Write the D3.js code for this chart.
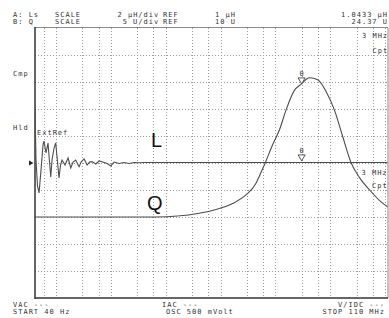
<!DOCTYPE html>
<html>
<head>
<meta charset="utf-8">
<script src="https://cdn.jsdelivr.net/npm/d3@7"></script>
<style>
	body { margin: 0; background: #fff; }
	svg { display: block; }
	.mono { font-family: "DejaVu Sans Mono", monospace; font-size: 7px; letter-spacing: 1px; fill: #333; }
	.big { font-family: "Liberation Sans", Arial, sans-serif; font-size: 20px; fill: #111; }
</style>
</head>
<body>
<svg id="chart" width="389" height="318"></svg>
<script>
// sweep settings
var startFreq = 40, stopFreq = 110e6;
var freqGrid = [60, 100, 300, 600, 1e3, 3e3, 6e3, 1e4, 3e4, 6e4, 1e5, 3e5, 6e5, 1e6, 3e6, 6e6, 1e7, 3e7, 6e7, 1e8];

// trace A: Ls (uH), 2 uH/div, ref 1 uH
var lFreq = [40, 41.7, 43.5, 46.3, 49.4, 53.7, 58.4, 60.9, 66.2, 72, 80.7, 85.2, 92.7, 99.5, 106.4, 114.3, 121.7, 129.7, 147, 167, 187, 206, 230, 265, 288, 327, 371, 411, 457, 534, 613, 757, 859, 1000, 1150, 1420, 1750, 2160, 2670, 3290, 4060, 110e6];
var lVal = [6.04, 5.07, 1.22, -0.7, -1.22, 0.48, 2.33, 2.63, 1.74, 2.48, -0.04, 1.22, 2.11, 2.48, 1.22, -0.11, 0.85, 1.22, 0.85, 1.37, 0.63, 1.07, 1.22, 0.73, 1.07, 1.3, 0.85, 1.07, 1.1, 0.93, 1.15, 1.04, 0.96, 0.78, 1.07, 0.96, 1.04, 0.96, 1.04, 1.02, 1.04, 1.04];

// trace B: Q, 5 U/div, ref 10 U
var qFreq = [40, 6.6e3, 41e3, 83e3, 166e3, 290e3, 440e3, 510e3, 650e3, 880e3, 1.18e6, 1.56e6, 2.2e6, 2.95e6, 4.15e6, 5.9e6, 8.4e6, 11.9e6, 16.8e6, 24e6, 34e6, 52e6, 84e6, 110e6];
var qVal = [0, 0, 0.7, 1.4, 2.5, 4.1, 6.2, 7.6, 10, 13.3, 16.1, 19.8, 23.4, 24.6, 25.8, 25.4, 23.2, 19.8, 14.9, 10, 7.3, 5.0, 2.8, 1.9];

var scaleA = 2, refA = 1, scaleB = 5, refB = 10, divisions = 10;
var markerFreq = 3e6, markerL = 1.0433, markerQ = 24.37;

var svg = d3.select("#chart");
// note: "top" is reserved on window, keep the plot box in an object
var box = {left: 35, right: 388, top: 28, bottom: 298};

var x = d3.scaleLog().domain([startFreq, stopFreq]).range([34, 387.5]);
// reference sits on the centre division
var yA = d3.scaleLinear().domain([refA - scaleA * divisions / 2, refA + scaleA * divisions / 2]).range([box.bottom, box.top]);
var yB = d3.scaleLinear().domain([refB - scaleB * divisions / 2, refB + scaleB * divisions / 2]).range([box.bottom, box.top]);

svg.append("clipPath").attr("id", "plot")
	.append("rect").attr("x", box.left).attr("y", box.top).attr("width", box.right - box.left).attr("height", box.bottom - box.top);

// grid
var grid = svg.append("g").attr("stroke", "#9a9a9a").attr("stroke-dasharray", "1,2");
grid.selectAll(".vx").data(freqGrid).enter().append("line")
	.attr("x1", function(d) { return Math.round(x(d)) + 0.5; })
	.attr("x2", function(d) { return Math.round(x(d)) + 0.5; })
	.attr("y1", box.top).attr("y2", box.bottom);
grid.selectAll(".hy").data(d3.range(1, divisions)).enter().append("line")
	.attr("x1", box.left).attr("x2", box.right)
	.attr("y1", function(d) { return Math.round(yA(yA.domain()[0] + d * scaleA)) + 0.5; })
	.attr("y2", function(d) { return Math.round(yA(yA.domain()[0] + d * scaleA)) + 0.5; });

// frame
svg.append("line").attr("x1", box.left).attr("x2", box.right).attr("y1", box.top - 0.5).attr("y2", box.top - 0.5).attr("stroke", "#8a8a8a");
svg.append("line").attr("x1", box.right).attr("x2", box.right).attr("y1", box.top).attr("y2", box.bottom).attr("stroke", "#8a8a8a");
svg.append("line").attr("x1", box.left).attr("x2", box.left).attr("y1", box.top - 1).attr("y2", box.bottom + 1).attr("stroke", "#333").attr("stroke-width", 1.5);
svg.append("line").attr("x1", box.left).attr("x2", box.right).attr("y1", box.bottom).attr("y2", box.bottom).attr("stroke", "#333").attr("stroke-width", 1.5);

// traces
var traces = svg.append("g").attr("clip-path", "url(#plot)").attr("fill", "none").attr("stroke", "#4d4d4d").attr("stroke-width", 1.1);
var lineA = d3.line().x(function(d) { return x(d[0]); }).y(function(d) { return yA(d[1]); });
var lineB = d3.line().x(function(d) { return x(d[0]); }).y(function(d) { return yB(d[1]); }).curve(d3.curveMonotoneX);
traces.append("path").attr("d", lineA(d3.zip(lFreq, lVal)));
traces.append("path").attr("d", lineB(d3.zip(qFreq, qVal)));

// markers
[[markerFreq, yA(markerL)], [markerFreq, yB(markerQ)]].forEach(function(m) {
	var mx = x(m[0]), my = m[1];
	svg.append("path")
		.attr("d", "M" + (mx - 3.5) + "," + (my - 7.5) + "L" + (mx + 3.5) + "," + (my - 7.5) + "L" + mx + "," + (my - 1.5) + "Z")
		.attr("fill", "#fff").attr("stroke", "#444").attr("stroke-width", 0.9);
	svg.append("text").attr("class", "mono").attr("x", mx).attr("y", my - 9.5)
		.attr("text-anchor", "middle").style("letter-spacing", "0px").text("0");
});

// reference pointer
var ry = yA(refA);
svg.append("path").attr("d", "M29," + (ry - 2.5) + "L33.5," + ry + "L29," + (ry + 2.5) + "Z").attr("fill", "#222");

// trace names
svg.append("text").attr("class", "big").attr("x", 151).attr("y", 146.5).text("L");
svg.append("text").attr("class", "big").attr("x", 147).attr("y", 209.5).text("Q");

// instrument annotations
var labels = [
	["A: Ls", 13, 16.5, "start"], ["B: Q", 13, 23.5, "start"],
	["SCALE", 55, 16.5, "start"], ["SCALE", 55, 23.5, "start"],
	["2 µH/div", 117.5, 16.5, "start"], ["5 U/div", 122.7, 23.5, "start"],
	["REF", 163, 16.5, "start"], ["REF", 163, 23.5, "start"],
	["1 µH", 215, 16.5, "start"], ["10 U", 215, 23.5, "start"],
	["1.0433 µH", 388, 16.5, "end"], ["24.37 U", 388, 23.5, "end"],
	["3 MHz", 362, 38.3, "start"], ["Cpt", 372.5, 53.3, "start"],
	["3 MHz", 361.5, 175, "start"], ["Cpt", 372, 188.3, "start"],
	["Cmp", 13, 76, "start"], ["Hld", 13, 129.5, "start"], ["ExtRef", 37, 134.5, "start"],
	["VAC ---", 13, 306.5, "start"], ["START 40 Hz", 13, 313.5, "start"],
	["IAC ---", 162, 306.5, "start"], ["OSC 500 mVolt", 166, 313.5, "start"],
	["V/IDC ---", 385, 306.5, "end"], ["STOP 110 MHz", 385, 313.5, "end"]
];
svg.selectAll(".lbl").data(labels).enter().append("text")
	.attr("class", "mono")
	.attr("x", function(d) { return d[1]; })
	.attr("y", function(d) { return d[2]; })
	.attr("text-anchor", function(d) { return d[3]; })
	.text(function(d) { return d[0]; });
</script>
</body>
</html>
